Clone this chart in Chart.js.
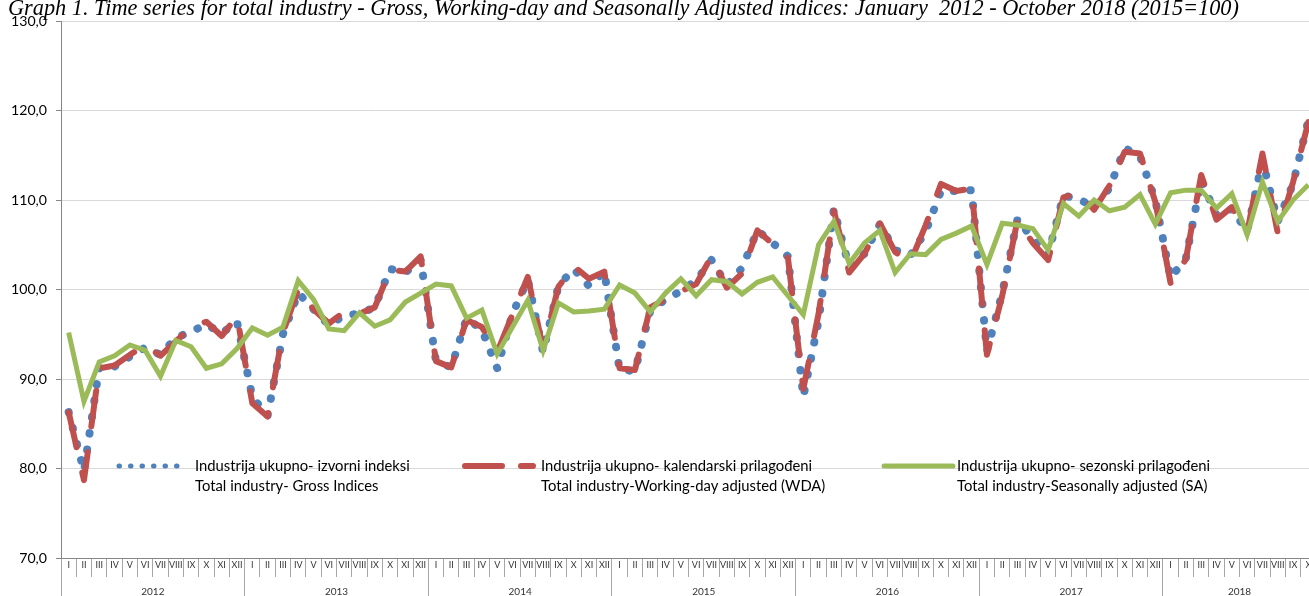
<!DOCTYPE html>
<html>
<head>
<meta charset="utf-8">
<script src="https://cdn.jsdelivr.net/npm/chart.js@4.4.1/dist/chart.umd.min.js"></script>
<style>
  html, body { margin: 0; padding: 0; background: #fff; overflow: hidden; }
  #wrap { position: relative; width: 1330px; height: 600px; }
</style>
</head>
<body>
<div id="wrap"><canvas id="chart" width="1330" height="600"></canvas></div>
<script>
// tick labels
const months = ['I', 'II', 'III', 'IV', 'V', 'VI', 'VII', 'VIII', 'IX', 'X', 'XI', 'XII'];
const years = ['2012', '2013', '2014', '2015', '2016', '2017', '2018'];
const monthsPerYear = [12, 12, 12, 12, 12, 12, 10];

// series (2015=100), January 2012 - October 2018
const gross = [
  86.3, 79.7, 91.3, 91.4, 92.5, 93.5, 92.7, 94.6, 95.3, 96.1, 95.1, 96.4,
  88.0, 85.9, 95.0, 99.6, 97.8, 96.0, 97.1, 97.3, 98.0, 102.3, 101.9, 103.3,
  92.0, 91.3, 96.8, 95.5, 91.2, 97.3, 101.1, 93.0, 100.4, 102.3, 100.4, 102.0,
  91.0, 90.9, 97.6, 98.9, 99.8, 101.0, 103.3, 100.5, 102.4, 106.6, 105.2, 103.7,
  88.0, 96.5, 109.0, 102.5, 104.0, 107.3, 104.4, 103.8, 106.5, 111.0, 111.0, 111.1,
  93.1, 99.6, 107.9, 105.6, 103.9, 110.5, 110.1, 109.2, 111.3, 115.8, 114.9, 110.0,
  101.3, 103.5, 112.2, 108.3, 109.0, 106.5, 114.4, 107.6, 111.8, 118.9
];
const wda = [
  86.3, 78.7, 91.2, 91.5, 92.7, 93.8, 92.6, 94.2, 95.8, 96.4, 94.8, 97.0,
  87.3, 85.8, 95.2, 100.0, 97.8, 96.2, 97.5, 97.3, 98.0, 102.2, 102.0, 103.7,
  92.0, 91.3, 96.6, 95.8, 93.0, 97.2, 101.4, 93.4, 100.3, 102.6, 101.2, 102.0,
  91.2, 91.0, 98.0, 98.9, 99.8, 100.6, 103.7, 100.2, 101.8, 106.6, 105.1, 103.5,
  88.9, 97.3, 108.8, 101.9, 104.0, 107.4, 104.2, 103.1, 107.2, 111.8, 111.0, 111.3,
  92.7, 99.3, 107.8, 105.2, 103.3, 110.3, 110.8, 108.9, 111.6, 115.4, 115.2, 109.8,
  100.7, 103.4, 112.8, 107.8, 109.2, 106.3, 115.2, 106.3, 112.0, 118.7
];
const sa = [
  95.2, 87.5, 91.9, 92.6, 93.8, 93.2, 90.3, 94.3, 93.6, 91.2, 91.7, 93.4,
  95.7, 94.9, 95.8, 101.0, 98.9, 95.6, 95.4, 97.4, 95.9, 96.6, 98.6, 99.6,
  100.6, 100.4, 96.8, 97.7, 92.8, 95.8, 98.8, 93.2, 98.5, 97.5, 97.6, 97.8,
  100.5, 99.6, 97.5, 99.6, 101.2, 99.3, 101.1, 100.9, 99.5, 100.8, 101.4, 99.3,
  97.2, 105.0, 107.6, 102.9, 105.2, 106.6, 101.9, 104.0, 103.9, 105.6, 106.3, 107.1,
  102.8, 107.4, 107.2, 106.8, 104.4, 109.6, 108.2, 110.0, 108.8, 109.2, 110.6, 107.3,
  110.8, 111.1, 111.1, 109.1, 110.7, 106.1, 112.0, 107.6, 110.0, 111.7
];

const titleText = 'Graph 1. Time series for total industry - Gross, Working-day and Seasonally Adjusted indices: January  2012 - October 2018 (2015=100)';
const legendLines = [
  ['Industrija ukupno- izvorni indeksi', 'Total industry- Gross Indices'],
  ['Industrija ukupno- kalendarski prilagođeni', 'Total industry-Working-day adjusted (WDA)'],
  ['Industrija ukupno- sezonski prilagođeni', 'Total industry-Seasonally adjusted (SA)']
];

const BLUE = '#4F81BD', RED = '#C0504D', GREEN = '#9BBB59';
const AXIS = '#868686';

// month labels for every point, and year ticks (edges + centres) for the second axis
const monthLabels = [];
const yearTicks = [];
let start = 0;
years.forEach((y, k) => {
  const n = monthsPerYear[k];
  for (let m = 0; m < n; m++) monthLabels.push(months[m]);
  yearTicks.push({ value: start - 0.5, label: '', edge: true });
  yearTicks.push({ value: start + (n - 1) / 2, label: y, edge: false });
  start += n;
});
yearTicks.push({ value: start - 0.5, label: '', edge: true });

const fitSize = (ctx, text, style, family, base, target) => {
  ctx.font = `${style} ${base}px ${family}`;
  return base * target / ctx.measureText(text).width;
};

// y tick font sized so that "130,0" is as wide as in the picture
const measureCtx = document.createElement('canvas').getContext('2d');
const yFontSize = fitSize(measureCtx, '130,0', '', 'Lato', 13, 36);

const titlePlugin = {
  id: 'pageTitle',
  afterDraw(chart) {
    const ctx = chart.ctx;
    ctx.save();
    const size = fitSize(ctx, titleText, 'italic', '"Liberation Serif"', 21, 1232);
    ctx.font = `italic ${size}px "Liberation Serif"`;
    ctx.fillStyle = '#000';
    ctx.textBaseline = 'alphabetic';
    ctx.fillText(titleText, 8, 15);
    ctx.restore();
  }
};

const legendPlugin = {
  id: 'twoLineLegend',
  afterDatasetsDraw(chart) {
    const ctx = chart.ctx;
    ctx.save();
    const size = fitSize(ctx, legendLines[0][0], '', 'Lato', 14, 215);
    ctx.font = `${size}px Lato`;
    ctx.fillStyle = '#000';
    ctx.textBaseline = 'middle';
    const samples = [
      { x0: 119, x1: 188, color: BLUE, width: 5, dash: [0.5, 11], textX: 195 },
      { x0: 465, x1: 533, color: RED, width: 6, dash: [37, 19], textX: 541 },
      { x0: 884, x1: 953, color: GREEN, width: 5, dash: [], textX: 957 }
    ];
    samples.forEach((s, i) => {
      ctx.beginPath();
      ctx.lineCap = 'round';
      ctx.lineWidth = s.width;
      ctx.strokeStyle = s.color;
      ctx.setLineDash(s.dash);
      ctx.moveTo(s.x0, 466);
      ctx.lineTo(s.x1, 466);
      ctx.stroke();
      ctx.setLineDash([]);
      ctx.fillText(legendLines[i][0], s.textX, 466);
      ctx.fillText(legendLines[i][1], s.textX, 486);
    });
    ctx.restore();
  }
};

new Chart(document.getElementById('chart'), {
  type: 'line',
  data: {
    labels: monthLabels,
    datasets: [
      {
        label: 'Gross',
        data: gross,
        borderColor: BLUE,
        borderWidth: 8,
        borderDash: [0.5, 16],
        borderCapStyle: 'round',
        borderJoinStyle: 'round',
        pointRadius: 0,
        fill: false,
        order: 3,
      },
      {
        label: 'WDA',
        data: wda,
        borderColor: RED,
        borderWidth: 6,
        borderDash: [36, 26],
        borderCapStyle: 'round',
        borderJoinStyle: 'round',
        pointRadius: 0,
        fill: false,
        order: 2,
      },
      {
        label: 'SA',
        data: sa,
        borderColor: GREEN,
        borderWidth: 5,
        pointRadius: 0,
        fill: false,
        order: 1,
      }
    ]
  },
  options: {
    responsive: false,
    animation: false,
    devicePixelRatio: 1,
    layout: { padding: { top: 21, right: 14, left: 0, bottom: 2 } },
    plugins: {
      legend: { display: false },
      title: { display: false },
      tooltip: { enabled: false }
    },
    scales: {
      x: {
        type: 'category',
        position: 'bottom',
        weight: 0,
        offset: true,
        grid: { offset: true, drawOnChartArea: false, tickLength: 19, color: '#a6a6a6' },
        border: { color: AXIS },
        ticks: {
          autoSkip: false, maxRotation: 0, minRotation: 0, padding: -17,
          color: '#333', font: { family: 'Lato', size: 9 }
        },
        afterFit: s => { s.height = 12; }
      },
      x2: {
        type: 'linear',
        position: 'bottom',
        weight: 1,
        min: -0.5,
        max: start - 0.5,
        afterBuildTicks: s => { s.ticks = yearTicks.map(t => ({ value: t.value })); },
        grid: {
          drawOnChartArea: false, tickLength: 30,
          color: c => (yearTicks[c.index] && yearTicks[c.index].edge) ? '#a6a6a6' : 'rgba(0,0,0,0)'
        },
        border: { display: false },
        ticks: {
          autoSkip: false, maxRotation: 0, minRotation: 0, padding: -14,
          color: '#333', font: { family: 'Lato', size: 10 },
          callback: (v, i) => yearTicks[i] ? yearTicks[i].label : ''
        },
        afterFit: s => { s.height = 28; }
      },
      y: {
        min: 70,
        max: 130,
        grid: { color: '#d9d9d9', tickLength: 5, tickColor: AXIS },
        border: { color: AXIS },
        ticks: {
          stepSize: 10, padding: 9, color: '#000', font: { family: 'Lato', size: yFontSize },
          callback: v => v.toFixed(1).replace('.', ',')
        },
        afterFit: s => { s.width = 61; }
      }
    }
  },
  plugins: [legendPlugin, titlePlugin]
});
</script>
</body>
</html>
